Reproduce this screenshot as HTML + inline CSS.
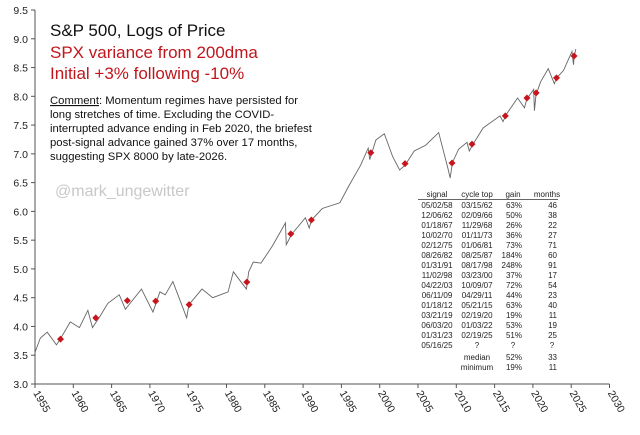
<!DOCTYPE html>
<html><head><meta charset="utf-8"><style>
body{margin:0;background:#fff;font-family:"Liberation Sans",Arial,sans-serif}
svg text{font-family:"Liberation Sans",Arial,sans-serif}
</style></head><body>
<svg id="c" width="640" height="430" viewBox="0 0 640 430">
<rect width="640" height="430" fill="#fff"/>
<g id="axes"></g><g id="plot"></g>
<text x="50" y="36" font-size="17" fill="#111">S&amp;P 500, Logs of Price</text>
<text x="50" y="58" font-size="17" fill="#c0161c">SPX variance from 200dma</text>
<text x="50" y="79" font-size="17" fill="#c0161c">Initial +3% following -10%</text>
<g font-size="11.3" fill="#111">
<text x="50" y="104"><tspan text-decoration="underline">Comment</tspan>: Momentum regimes have persisted for</text>
<text x="50" y="118">long stretches of time. Excluding the COVID-</text>
<text x="50" y="132">interrupted advance ending in Feb 2020, the briefest</text>
<text x="50" y="146">post-signal advance gained 37% over 17 months,</text>
<text x="50" y="160">suggesting SPX 8000 by late-2026.</text>
</g>
<text x="55" y="196" font-size="16" fill="#c8c8c8">@mark_ungewitter</text>
<g id="table" font-size="8" fill="#222"></g>
</svg>
<script>
const years=[1955.0,1955.7,1956.6,1957.8,1958.3,1959.6,1960.8,1961.9,1962.5,1963.5,1964.5,1966.0,1966.8,1968.9,1970.4,1971.3,1972.0,1973.0,1974.8,1975.1,1976.8,1978.2,1980.2,1980.9,1982.6,1982.9,1983.5,1984.5,1986.0,1987.7,1987.8,1988.5,1990.3,1990.8,1991.1,1992.5,1994.8,1996.0,1997.5,1998.5,1998.7,1999.5,2000.6,2001.7,2002.6,2003.3,2004.5,2006.0,2007.7,2008.9,2009.2,2009.5,2010.3,2011.4,2011.7,2012.1,2013.5,2015.7,2016.1,2016.5,2018.0,2018.9,2019.2,2020.1,2020.2,2020.4,2021.0,2022.0,2022.8,2023.1,2024.0,2024.5,2025.1,2025.3,2025.4,2025.6];
const logPrice=[3.55,3.80,3.90,3.68,3.78,4.08,3.98,4.28,3.98,4.18,4.40,4.55,4.30,4.65,4.25,4.60,4.55,4.78,4.15,4.38,4.65,4.50,4.60,4.95,4.65,4.95,5.12,5.10,5.40,5.80,5.42,5.60,5.89,5.71,5.85,6.05,6.15,6.45,6.80,7.10,6.90,7.24,7.35,6.95,6.72,6.80,7.05,7.15,7.37,6.75,6.58,6.85,7.08,7.20,7.05,7.15,7.45,7.66,7.56,7.68,7.97,7.80,7.95,8.12,7.75,8.02,8.25,8.48,8.22,8.32,8.45,8.60,8.78,8.55,8.70,8.82];
const signalYears=[1958.33,1962.93,1967.05,1970.75,1975.12,1982.65,1988.4,1991.08,1998.84,2003.31,2009.44,2012.05,2016.4,2019.22,2020.42,2023.08,2025.37];
const signalValues=[3.78,4.15,4.45,4.44,4.38,4.77,5.61,5.85,7.02,6.83,6.84,7.17,7.66,7.97,8.06,8.32,8.70];
const yTicks=[3.0,3.5,4.0,4.5,5.0,5.5,6.0,6.5,7.0,7.5,8.0,8.5,9.0,9.5];
const xTicks=[1955,1960,1965,1970,1975,1980,1985,1990,1995,2000,2005,2010,2015,2020,2025,2030];
const tSignal=["05/02/58","12/06/62","01/18/67","10/02/70","02/12/75","08/26/82","01/31/91","11/02/98","04/22/03","06/11/09","01/18/12","03/21/19","06/03/20","01/31/23","05/16/25"];
const tTop=["03/15/62","02/09/66","11/29/68","01/11/73","01/06/81","08/25/87","08/17/98","03/23/00","10/09/07","04/29/11","05/21/15","02/19/20","01/03/22","02/19/25","?"];
const tGain=["63%","50%","26%","36%","73%","184%","248%","37%","72%","44%","63%","19%","53%","51%","?"];
const tMonths=["46","38","22","27","71","60","91","17","54","23","40","11","19","25","?"];
const NS="http://www.w3.org/2000/svg";
const X=y=>35+(y-1955)*7.66, Y=v=>384-(v-3)*(374/6.5);
function mk(p,t,a){const e=document.createElementNS(NS,t);for(const k in a)e.setAttribute(k,a[k]);p.appendChild(e);return e;}
const ax=document.getElementById('axes'),pl=document.getElementById('plot'),tb=document.getElementById('table');
let e=mk(ax,'line',{x1:X(1955),y1:10,x2:X(1955),y2:384,stroke:'#555','stroke-width':1});


e=mk(ax,'line',{x1:X(1955),y1:384,x2:X(2030),y2:384,stroke:'#555','stroke-width':1});


yTicks.forEach(v=>{mk(ax,'line',{x1:31,x2:35,y1:Y(v),y2:Y(v),stroke:'#555'});
 const t=mk(ax,'text',{x:28,y:Y(v)+4,'font-size':10.5,'text-anchor':'end',fill:'#222'});t.textContent=v.toFixed(1);
 
 });
xTicks.forEach(v=>{const x=X(v);mk(ax,'line',{x1:x,x2:x,y1:384,y2:388,stroke:'#555'});
 const t=mk(ax,'text',{x:x-2,y:393,'font-size':10.5,fill:'#222',transform:`rotate(60 ${x-2} 393)`});t.textContent=v;
 
 });
e=mk(pl,'polyline',{points:years.map((y,i)=>X(y)+','+Y(logPrice[i])).join(' '),fill:'none',stroke:'#666','stroke-width':0.9});


signalYears.forEach((y,i)=>{const x=X(y),yy=Y(signalValues[i]);
 const d=mk(pl,'polygon',{points:`${x},${yy-3.5} ${x+3.5},${yy} ${x},${yy+3.5} ${x-3.5},${yy}`,fill:'#c8141c'});
 
 });
const cols=[[437,'middle'],[477,'middle'],[522,'end'],[557,'end']];
['signal','cycle top','gain','months'].forEach((h,j)=>{const t=mk(tb,'text',{x:j==2?513:j==3?547:cols[j][0],y:197,'text-anchor':'middle'});t.textContent=h;});
mk(tb,'line',{x1:418,x2:558,y1:199.5,y2:199.5,stroke:'#333','stroke-width':0.8});
for(let i=0;i<tSignal.length;i++){const y=208+i*10;
 [tSignal[i],tTop[i],tGain[i],tMonths[i]].forEach((s,j)=>{const q=s=='?';
  const t=mk(tb,'text',{x:q?(j==2?513:j==3?552:cols[j][0]):cols[j][0],y:y,'text-anchor':q?'middle':cols[j][1]});t.textContent=s;});}
[['median','52%','33',360],['minimum','19%','11',370]].forEach(r=>{
 let t=mk(tb,'text',{x:477,y:r[3],'text-anchor':'middle'});t.textContent=r[0];
 t=mk(tb,'text',{x:522,y:r[3],'text-anchor':'end'});t.textContent=r[1];
 t=mk(tb,'text',{x:557,y:r[3],'text-anchor':'end'});t.textContent=r[2];});
</script>
</body></html>
